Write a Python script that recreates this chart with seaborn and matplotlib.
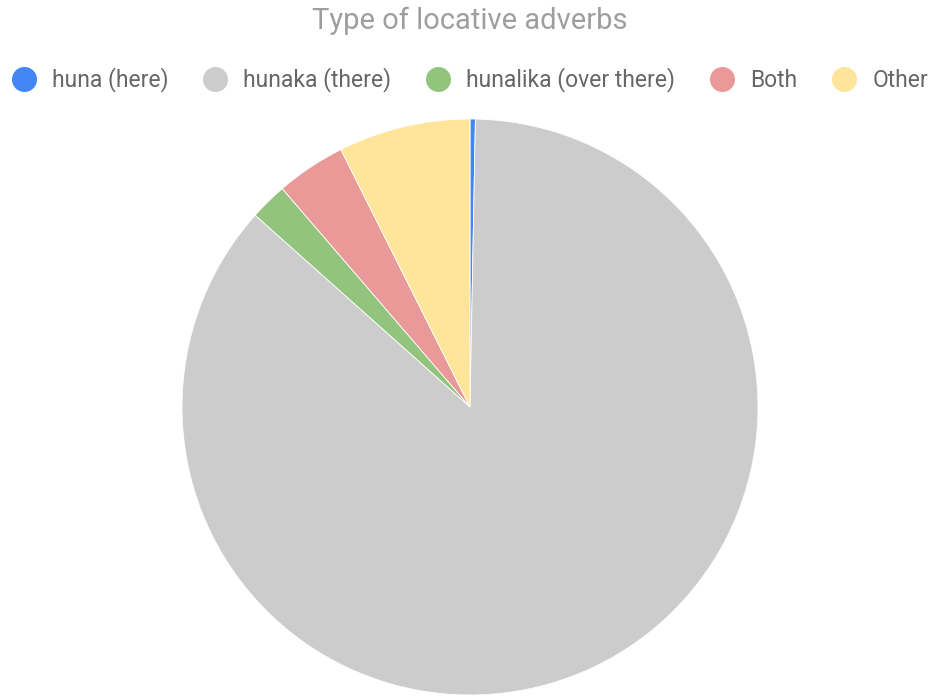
import matplotlib
matplotlib.use("Agg")
import matplotlib.pyplot as plt
from matplotlib.lines import Line2D
import seaborn as sns

sns.set_theme(style="white")
plt.rcParams["font.family"] = ["Roboto", "DejaVu Sans"]

# Share of each locative adverb type (percent)
categories = ["huna (here)", "hunaka (there)", "hunalika (over there)", "Both", "Other"]
shares = [0.3, 86.3, 2.1, 3.9, 7.4]
colors = ["#4285F4", "#CCCCCC", "#93C47D", "#EA9999", "#FFE599"]

W, H = 933, 697
fig = plt.figure(figsize=(W / 100, H / 100), dpi=100)
fig.patch.set_facecolor("white")

# Pie centred at (470, 407) px with radius 288 px
cx, cy, r = 470, 407, 288
ax = fig.add_axes([(cx - r) / W, (H - cy - r) / H, 2 * r / W, 2 * r / H])
ax.pie(shares, colors=colors, startangle=90, counterclock=False, radius=1,
       wedgeprops=dict(linewidth=0.6, edgecolor="white"))
ax.set_xlim(-1, 1)
ax.set_ylim(-1, 1)
ax.set_aspect("equal")
ax.axis("off")

fig.text(cx / W, 1 - 21 / H, "Type of locative adverbs", ha="center", va="center",
         fontsize=21, color="#9E9E9E")

handles = [Line2D([], [], marker="o", linestyle="none", markersize=17,
                  markerfacecolor=c, markeredgecolor=c) for c in colors]
fig.legend(handles, categories, loc="center", bbox_to_anchor=(470 / W, 1 - 80 / H),
           ncol=5, frameon=False, fontsize=16.5, handletextpad=0.72,
           columnspacing=1.55, handlelength=1.0, labelcolor="#666666")

fig.savefig("out.png", dpi=100, facecolor="white")
